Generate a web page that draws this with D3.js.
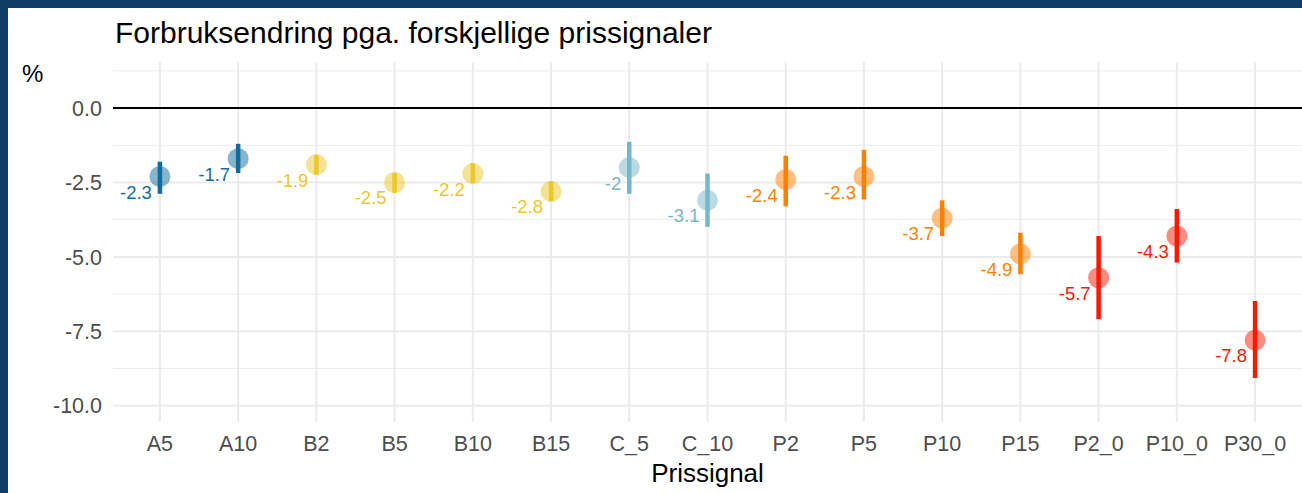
<!DOCTYPE html>
<html>
<head>
<meta charset="utf-8">
<script src="https://cdn.jsdelivr.net/npm/d3@7"></script>
<style>
  html, body { margin: 0; padding: 0; background: #0f3d63; }
  svg { display: block; }
</style>
</head>
<body>
<svg id="chart" width="1302" height="493"></svg>
<script>
const categories = ["A5","A10","B2","B5","B10","B15","C_5","C_10","P2","P5","P10","P15","P2_0","P10_0","P30_0"];
const groups     = ["A","A","B","B","B","B","C","C","P","P","P","P","P0","P0","P0"];
const values     = [-2.3,-1.7,-1.9,-2.5,-2.2,-2.8,-2.0,-3.1,-2.4,-2.3,-3.7,-4.9,-5.7,-4.3,-7.8];
const lower      = [-2.88,-2.18,-2.24,-2.85,-2.52,-3.13,-2.88,-3.99,-3.3,-3.07,-4.3,-5.58,-7.09,-5.19,-9.07];
const upper      = [-1.8,-1.2,-1.57,-2.18,-1.85,-2.46,-1.13,-2.2,-1.6,-1.4,-3.1,-4.19,-4.3,-3.39,-6.48];
const labels     = ["-2.3","-1.7","-1.9","-2.5","-2.2","-2.8","-2","-3.1","-2.4","-2.3","-3.7","-4.9","-5.7","-4.3","-7.8"];
const groupNames = ["A","B","C","P","P0"];
const groupColors= ["#0F6C9C","#EBC72A","#78B7C5","#FF7F00","#F51A00"];
const yTicks     = [0, -2.5, -5, -7.5, -10];
const yTickLabels= ["0.0","-2.5","-5.0","-7.5","-10.0"];
const yMinor     = [1.25, -1.25, -3.75, -6.25, -8.75];
const title = "Forbruksendring pga. forskjellige prissignaler";
const xTitle = "Prissignal";
const yTitle = "%";

const FONT = "Liberation Sans, Arial, Helvetica, sans-serif";
const svg = d3.select("#chart");
// white panel inside dark frame
svg.append("rect").attr("x", 8).attr("y", 8).attr("width", 1302 - 8).attr("height", 493 - 8).attr("fill", "#ffffff");

const panel = { left: 113, right: 1302, top: 62, bottom: 422 };
const x = d3.scalePoint().domain(categories).range([panel.left, panel.right]).padding(0.6);
const y = d3.scaleLinear().domain([-10.55, 1.55]).range([panel.bottom, panel.top]);
const color = d3.scaleOrdinal().domain(groupNames).range(groupColors);

const grid = svg.append("g");
grid.selectAll("line.minor").data(yMinor).join("line")
  .attr("x1", panel.left).attr("x2", panel.right)
  .attr("y1", d => y(d)).attr("y2", d => y(d))
  .attr("stroke", "#ebebeb").attr("stroke-width", 1);
grid.selectAll("line.majorY").data(yTicks).join("line")
  .attr("x1", panel.left).attr("x2", panel.right)
  .attr("y1", d => y(d)).attr("y2", d => y(d))
  .attr("stroke", "#ebebeb").attr("stroke-width", 2);
grid.selectAll("line.majorX").data(categories).join("line")
  .attr("x1", d => x(d)).attr("x2", d => x(d))
  .attr("y1", panel.top).attr("y2", panel.bottom)
  .attr("stroke", "#ebebeb").attr("stroke-width", 2);

// zero line
svg.append("line")
  .attr("x1", panel.left).attr("x2", panel.right)
  .attr("y1", y(0)).attr("y2", y(0))
  .attr("stroke", "#000").attr("stroke-width", 2);

// y tick labels
svg.append("g").selectAll("text").data(yTicks).join("text")
  .attr("x", 102).attr("y", d => y(d)).attr("dy", "0.36em")
  .attr("text-anchor", "end")
  .attr("font-family", FONT)
  .attr("font-size", 21.5).attr("fill", "#4d4d4d")
  .text((d, i) => yTickLabels[i]);

// x tick labels
svg.append("g").selectAll("text").data(categories).join("text")
  .attr("x", d => x(d)).attr("y", 451)
  .attr("text-anchor", "middle")
  .attr("font-family", FONT)
  .attr("font-size", 21.5).attr("fill", "#4d4d4d")
  .text(d => d);

const data = categories.map((c, i) => ({ c, g: groups[i], v: values[i], lo: lower[i], hi: upper[i], lab: labels[i] }));

// points (translucent)
svg.append("g").selectAll("circle").data(data).join("circle")
  .attr("cx", d => x(d.c)).attr("cy", d => y(d.v)).attr("r", 10.5)
  .attr("fill", d => color(d.g)).attr("fill-opacity", 0.5);

// error bars
svg.append("g").selectAll("line").data(data).join("line")
  .attr("x1", d => x(d.c)).attr("x2", d => x(d.c))
  .attr("y1", d => y(d.hi)).attr("y2", d => y(d.lo))
  .attr("stroke", d => color(d.g)).attr("stroke-width", 4.5);

// value labels
svg.append("g").selectAll("text").data(data).join("text")
  .attr("x", d => x(d.c) - 8).attr("y", d => y(d.v) + 22)
  .attr("text-anchor", "end")
  .attr("font-family", FONT)
  .attr("font-size", 18.5).attr("fill", d => color(d.g))
  .text(d => d.lab);

// titles
svg.append("text").attr("x", 115).attr("y", 43)
  .attr("font-family", FONT)
  .attr("font-size", 30).attr("fill", "#000").text(title);
svg.append("text").attr("x", 22).attr("y", 82)
  .attr("font-family", FONT)
  .attr("font-size", 24).attr("fill", "#000").text(yTitle);
svg.append("text").attr("x", (panel.left + panel.right) / 2).attr("y", 482)
  .attr("text-anchor", "middle")
  .attr("font-family", FONT)
  .attr("font-size", 26).attr("fill", "#000").text(xTitle);
</script>
</body>
</html>
